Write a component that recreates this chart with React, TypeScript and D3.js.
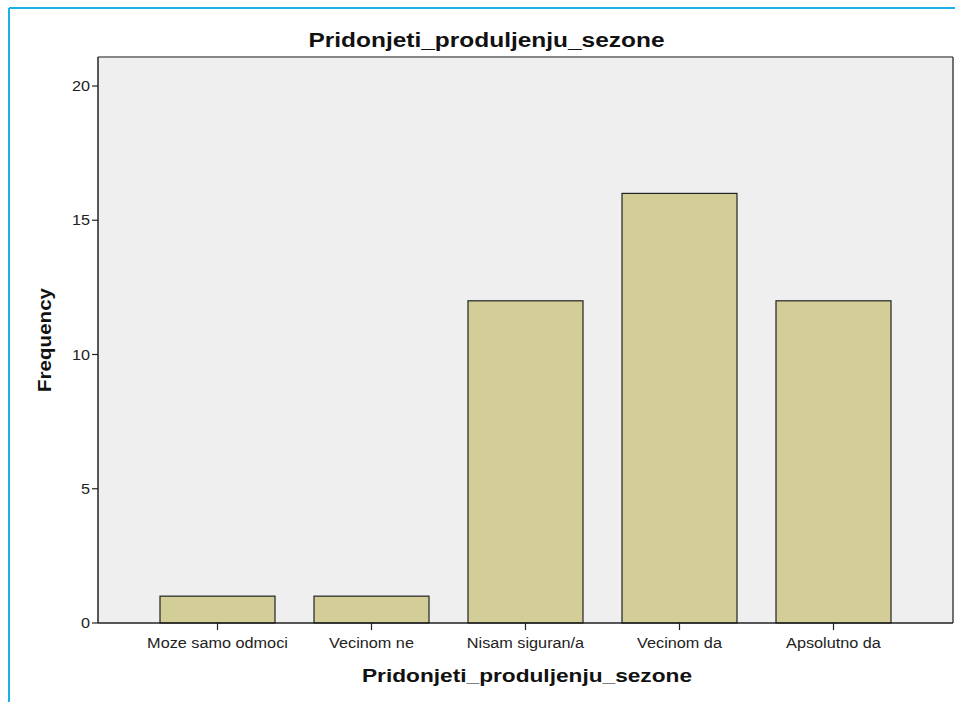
import React from "react";
import * as d3 from "d3";

const categories = ["Moze samo odmoci", "Vecinom ne", "Nisam siguran/a", "Vecinom da", "Apsolutno da"];
const frequencies = [1, 1, 12, 16, 12];
const yTicks = [0, 5, 10, 15, 20];
const chartTitle = "Pridonjeti_produljenju_sezone";
const xTitle = "Pridonjeti_produljenju_sezone";
const yTitle = "Frequency";

export default function App() {
  const W = 955, H = 702;
  const left = 98, right = 953, top = 57, bottom = 623;
  const x = d3.scaleBand<string>().domain(categories).range([left, right]).paddingInner(39 / 154).paddingOuter(0.4026);
  const y = d3.scaleLinear().domain([0, 20]).range([bottom, 86]);
  const font = "'Liberation Sans', Arial, sans-serif";
  const sx = 1.16;
  return (
    <svg width={W} height={H} style={{ position: "absolute", left: 0, top: 0 }}>
      <rect x={0} y={0} width={W} height={H} fill="#fff" />
      <line x1={9} y1={8} x2={W} y2={8} stroke="#1ab0ea" strokeWidth={2} />
      <line x1={9} y1={8} x2={9} y2={H} stroke="#1ab0ea" strokeWidth={2} />
      <rect x={left} y={top} width={right - left} height={bottom - top} fill="#efefef" />
      <line x1={left} y1={top} x2={right} y2={top} stroke="#888" strokeWidth={2} />
      <line x1={right} y1={top} x2={right} y2={bottom} stroke="#444" strokeWidth={1.5} />
      {categories.map((c, i) => (
        <rect key={c} x={x(c)!} y={y(frequencies[i])} width={x.bandwidth()} height={y(0) - y(frequencies[i])}
          fill="#d3ce98" stroke="#222" strokeWidth={1.2} />
      ))}
      <line x1={left} y1={top} x2={left} y2={bottom} stroke="#222" strokeWidth={1.5} />
      <line x1={left} y1={bottom} x2={right} y2={bottom} stroke="#222" strokeWidth={1.5} />
      {yTicks.map(t => (
        <g key={t}>
          <line x1={left - 6} x2={left} y1={y(t)} y2={y(t)} stroke="#222" strokeWidth={1.2} />
          <text transform={`translate(${left - 8},${y(t)}) scale(${sx},1)`} dy="0.36em" textAnchor="end" fontFamily={font} fontSize={14} fill="#222">{t}</text>
        </g>
      ))}
      {categories.map(c => {
        const cx = x(c)! + x.bandwidth() / 2;
        return (
          <g key={c}>
            <line x1={cx} x2={cx} y1={bottom} y2={bottom + 7} stroke="#222" strokeWidth={1.2} />
            <text transform={`translate(${cx},${648}) scale(${sx},1)`} textAnchor="middle" fontFamily={font} fontSize={14} fill="#222">{c}</text>
          </g>
        );
      })}
      <text x={486.5} y={47} textAnchor="middle" fontFamily={font} fontSize={20} fontWeight="bold" fill="#111"
        textLength={356} lengthAdjust="spacingAndGlyphs">{chartTitle}</text>
      <text x={527} y={682} textAnchor="middle" fontFamily={font} fontSize={19} fontWeight="bold" fill="#111"
        textLength={330} lengthAdjust="spacingAndGlyphs">{xTitle}</text>
      <text transform={`translate(51,340) rotate(-90)`} textAnchor="middle" fontFamily={font} fontSize={18} fontWeight="bold" fill="#111"
        textLength={104} lengthAdjust="spacingAndGlyphs">{yTitle}</text>
    </svg>
  );
}
